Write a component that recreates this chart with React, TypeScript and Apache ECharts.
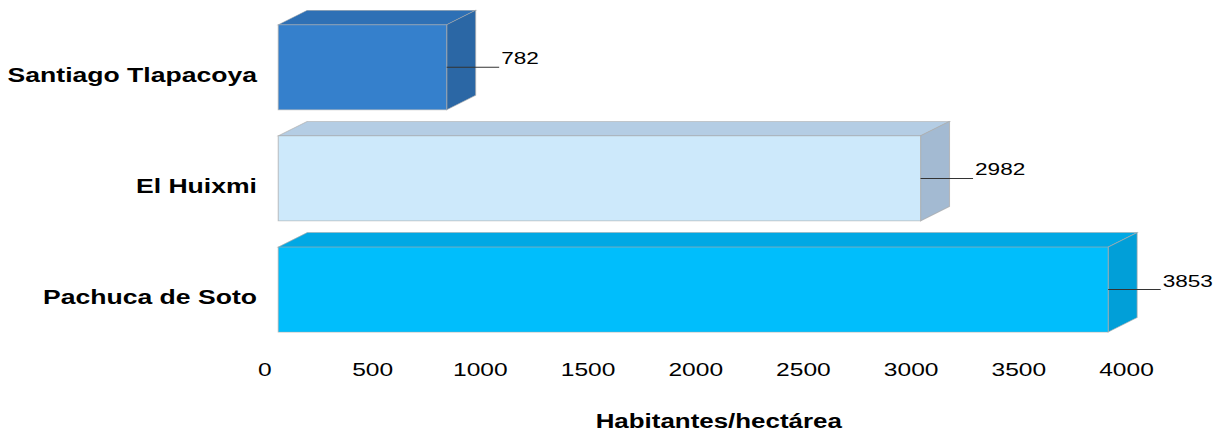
import React, { useEffect, useRef } from "react";
import * as echarts from "echarts";

const categories = ["Santiago Tlapacoya", "El Huixmi", "Pachuca de Soto"];
const values = [782, 2982, 3853];
const frontColors = ["#3580CC", "#CDE9FB", "#00BEFC"];
const topColors = ["#2E70B5", "#B4CDE4", "#00A8E4"];
const sideColors = ["#2B67A5", "#A3BAD2", "#019FD8"];
const xTicks = { min: 0, max: 4000, interval: 500 };

const STRETCH = 1214.5 / 914;
const FONT = "'Liberation Sans', Arial, sans-serif";

export default function App() {
  const ref = useRef<HTMLDivElement>(null);
  useEffect(() => {
    document.body.style.margin = "0";
    document.body.style.overflow = "hidden";
    document.documentElement.style.overflow = "hidden";
    const chart = echarts.init(ref.current!, null, { renderer: "svg" });
    const data = values.map((v, i) => [v, i]);
    chart.setOption({
      animation: false,
      backgroundColor: "#ffffff",
      grid: { left: 199.4, right: 66.2, top: 19.5, bottom: 75.5, containLabel: false },
      xAxis: {
        type: "value",
        min: xTicks.min,
        max: xTicks.max,
        interval: xTicks.interval,
        axisLine: { show: false },
        axisTick: { show: false },
        splitLine: { show: false },
        axisLabel: {
          color: "#000",
          fontSize: 18.5,
          fontFamily: FONT,
          margin: 7,
          formatter: (v: number) => String(v),
        },
        name: "Habitantes/hectárea",
        nameLocation: "middle",
        nameGap: 58,
        nameTextStyle: {
          color: "#000",
          fontSize: 19.5,
          fontWeight: "bold",
          fontFamily: FONT,
          padding: [0, 0, 0, 34.6],
        },
      },
      yAxis: {
        type: "category",
        data: categories,
        inverse: true,
        axisLine: { show: false },
        axisTick: { show: false },
        splitLine: { show: false },
        axisLabel: { color: "#000", fontSize: 20, fontWeight: "bold", fontFamily: FONT, margin: 6 },
      },
      series: [
        {
          type: "custom",
          data,
          encode: { x: 0, y: 1 },
          renderItem: (params: any, api: any) => {
            const v = api.value(0);
            const ci = api.value(1);
            const idx = params.dataIndex;
            const p0 = api.coord([0, ci]);
            const p1 = api.coord([v, ci]);
            const dx = 10;
            const dy = -7.8;
            const h = 85;
            const ddx = 21.8;
            const ddy = -14.5;
            const x0 = p0[0] + dx;
            const x1 = p1[0] + dx;
            const yc = p0[1] + dy;
            const yt = yc - h / 2;
            const yb = yc + h / 2;
            const edge = "rgba(170,170,170,0.7)";
            return {
              type: "group",
              children: [
                {
                  type: "polygon",
                  shape: { points: [[x0, yt], [x0 + ddx, yt + ddy], [x1 + ddx, yt + ddy], [x1, yt]] },
                  style: { fill: topColors[idx], stroke: edge, lineWidth: 0.8 },
                },
                {
                  type: "polygon",
                  shape: { points: [[x1, yt], [x1 + ddx, yt + ddy], [x1 + ddx, yb + ddy], [x1, yb]] },
                  style: { fill: sideColors[idx], stroke: edge, lineWidth: 0.8 },
                },
                {
                  type: "rect",
                  shape: { x: x0, y: yt, width: x1 - x0, height: h },
                  style: { fill: frontColors[idx], stroke: edge, lineWidth: 0.8 },
                },
                {
                  type: "line",
                  shape: { x1: x1, y1: yc, x2: x1 + 39.5, y2: yc },
                  style: { stroke: "#333", lineWidth: 1 },
                },
                {
                  type: "text",
                  style: {
                    text: String(v),
                    x: x1 + 41,
                    y: yc - 9,
                    fill: "#000",
                    font: `17px ${FONT}`,
                    align: "left",
                    verticalAlign: "middle",
                  },
                },
              ],
            };
          },
        },
      ],
    });
    return () => chart.dispose();
  }, []);
  return (
    <div
      ref={ref}
      style={{
        position: "absolute",
        left: 0,
        top: 0,
        width: 914,
        height: 436,
        transform: `scaleX(${STRETCH})`,
        transformOrigin: "0 0",
      }}
    />
  );
}
